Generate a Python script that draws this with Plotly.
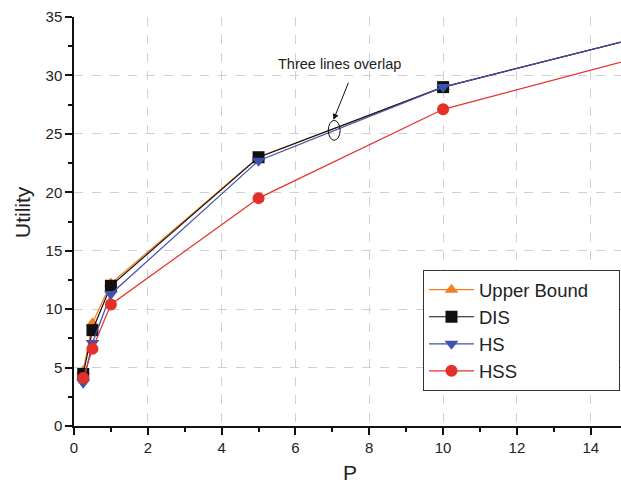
import plotly.graph_objects as go

P = [0.25, 0.5, 1, 5, 10, 15]
upper_bound = [4.7, 8.8, 12.2, 23.0, 29.0, 33.0]
dis = [4.45, 8.2, 12.0, 23.0, 29.0, 33.0]
hs = [3.7, 7.1, 11.3, 22.7, 29.0, 33.0]
hss = [4.1, 6.6, 10.4, 19.5, 27.1, 31.3]

series = [
    ("Upper Bound" + "\u00a0" * 5, upper_bound, "#F47F20", "triangle-up"),
    ("DIS", dis, "#111111", "square"),
    ("HS", hs, "#3D52B0", "triangle-down"),
    ("HSS", hss, "#E3302A", "circle"),
]

fig = go.Figure()
for name, vals, color, sym in series:
    fig.add_trace(go.Scatter(
        x=P, y=vals, name=name, mode="lines+markers",
        line=dict(color=color, width=1.2),
        marker=dict(symbol=sym, size=12, color=color),
    ))

font = "Liberation Sans, Arial, sans-serif"
fig.update_layout(
    width=621, height=486,
    margin=dict(l=74, r=0, t=17, b=60, autoexpand=False),
    paper_bgcolor="white", plot_bgcolor="white",
    font=dict(family=font, color="#222"),
    showlegend=True,
    legend=dict(
        x=0.638, y=0.381, xanchor="left", yanchor="top",
        bordercolor="#333", borderwidth=1, bgcolor="white",
        font=dict(size=18.5, family=font, color="#222"),
        itemwidth=45, tracegroupgap=0,
    ),
    xaxis=dict(
        range=[0, 14.82], dtick=2, tick0=0, automargin=False,
        showline=True, linecolor="#111", linewidth=1.5,
        ticks="outside", ticklen=7, tickcolor="#111", tickwidth=1.5,
        minor=dict(dtick=1, ticks="outside", ticklen=4, tickcolor="#111", showgrid=False),
        showgrid=True, gridcolor="#d0d0d0", griddash="dash", gridwidth=1,
        zeroline=False, tickfont=dict(size=15),
    ),
    yaxis=dict(
        range=[0, 35], dtick=5, tick0=0, automargin=False,
        showline=True, linecolor="#111", linewidth=1.5,
        ticks="outside", ticklen=7, tickcolor="#111", tickwidth=1.5,
        minor=dict(dtick=2.5, ticks="outside", ticklen=4, tickcolor="#111", showgrid=False),
        showgrid=True, gridcolor="#d0d0d0", griddash="dash", gridwidth=1,
        zeroline=False, tickfont=dict(size=15),
    ),
)

# axis titles
fig.add_annotation(xref="paper", yref="paper", x=(350 - 74) / 547, y=-46 / 409,
                   text="P", showarrow=False, font=dict(size=21, color="#222"),
                   xanchor="center", yanchor="middle")
fig.add_annotation(xref="paper", yref="paper", x=-52 / 547, y=(426 - 212) / 409,
                   text="Utility", showarrow=False, textangle=-90,
                   font=dict(size=21, color="#222"), xanchor="center", yanchor="middle")

fig.add_shape(type="circle", xref="x", yref="y",
              x0=6.89, x1=7.21, y0=24.45, y1=26.15,
              line=dict(color="#111", width=1))
fig.add_annotation(x=7.03, y=26.2, ax=7.45, ay=29.5, axref="x", ayref="y",
                   text="", showarrow=True, arrowhead=2, arrowsize=1.2,
                   arrowwidth=1, arrowcolor="#111")
fig.add_annotation(x=7.2, y=30.1, text="Three lines overlap", showarrow=False,
                   font=dict(size=14.5, color="#222"), yanchor="bottom")

fig.write_html("out.html", config={"displayModeBar": False},
               post_script="document.body.style.margin='0px';document.body.style.overflow='hidden';")
